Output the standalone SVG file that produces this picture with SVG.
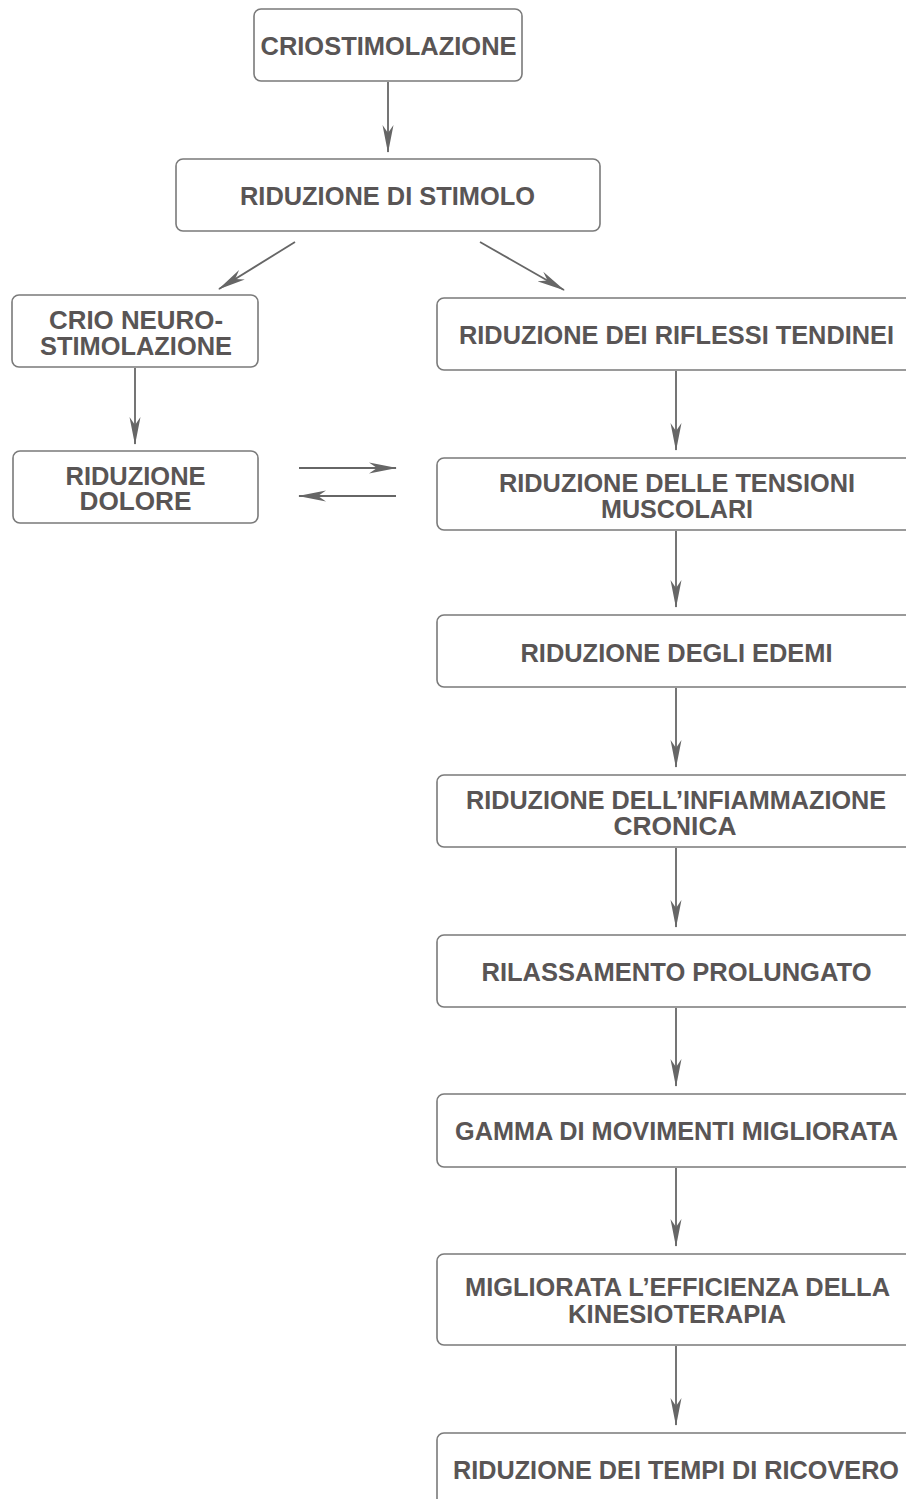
<svg xmlns="http://www.w3.org/2000/svg" width="906" height="1499" viewBox="0 0 906 1499">
<defs>
<marker id="ah" markerUnits="userSpaceOnUse" markerWidth="28" markerHeight="12" refX="27" refY="6" orient="auto" viewBox="0 0 28 12">
<path d="M0,0.5 L28,6 L0,11.5 L8,6 Z" fill="#666"/>
</marker>
<style>
.box{fill:#fff;stroke:#7a7a7a;stroke-width:1.6}
.t{font-family:"Liberation Sans",Arial,sans-serif;font-weight:bold;font-size:26px;fill:#595555;text-anchor:middle}
.c{stroke:#666;stroke-width:1.8;fill:none;marker-end:url(#ah)}
</style>
</defs>
<rect width="906" height="1499" fill="#fff"/>
<g id="connectors">
<line class="c" x1="388" y1="82" x2="388" y2="152"/>
<line class="c" x1="295" y1="242" x2="219" y2="289"/>
<line class="c" x1="480" y1="242" x2="564" y2="290"/>
<line class="c" x1="135" y1="368" x2="135" y2="444"/>
<line class="c" x1="299" y1="468" x2="396" y2="468"/>
<line class="c" x1="396" y1="496" x2="299" y2="496"/>
<line class="c" x1="676" y1="371" x2="676" y2="450"/>
<line class="c" x1="676" y1="531" x2="676" y2="607"/>
<line class="c" x1="676" y1="688" x2="676" y2="767"/>
<line class="c" x1="676" y1="848" x2="676" y2="927"/>
<line class="c" x1="676" y1="1008" x2="676" y2="1086"/>
<line class="c" x1="676" y1="1168" x2="676" y2="1246"/>
<line class="c" x1="676" y1="1346" x2="676" y2="1425"/>
</g>
<g id="n1"><rect class="box" x="254" y="9" width="268" height="72" rx="7"/><text class="t" x="388.5" y="55" textLength="256" lengthAdjust="spacingAndGlyphs">CRIOSTIMOLAZIONE</text></g>
<g id="n2"><rect class="box" x="176" y="159" width="424" height="72" rx="7"/><text class="t" x="387.5" y="205" textLength="295" lengthAdjust="spacingAndGlyphs">RIDUZIONE DI STIMOLO</text></g>
<g id="n3"><rect class="box" x="12" y="295" width="246" height="72" rx="7"/><text class="t" x="136" y="329" textLength="174" lengthAdjust="spacingAndGlyphs">CRIO NEURO-</text><text class="t" x="136" y="355" textLength="192" lengthAdjust="spacingAndGlyphs">STIMOLAZIONE</text></g>
<g id="n4"><rect class="box" x="13" y="451" width="245" height="72" rx="7"/><text class="t" x="135.5" y="485" textLength="140" lengthAdjust="spacingAndGlyphs">RIDUZIONE</text><text class="t" x="135.5" y="510" textLength="112" lengthAdjust="spacingAndGlyphs">DOLORE</text></g>
<g id="n5"><rect class="box" x="437" y="298" width="478" height="72" rx="7"/><text class="t" x="676.5" y="344" textLength="435" lengthAdjust="spacingAndGlyphs">RIDUZIONE DEI RIFLESSI TENDINEI</text></g>
<g id="n6"><rect class="box" x="437" y="458" width="478" height="72" rx="7"/><text class="t" x="677" y="492" textLength="356" lengthAdjust="spacingAndGlyphs">RIDUZIONE DELLE TENSIONI</text><text class="t" x="677" y="518" textLength="152" lengthAdjust="spacingAndGlyphs">MUSCOLARI</text></g>
<g id="n7"><rect class="box" x="437" y="615" width="478" height="72" rx="7"/><text class="t" x="676.5" y="662" textLength="312" lengthAdjust="spacingAndGlyphs">RIDUZIONE DEGLI EDEMI</text></g>
<g id="n8"><rect class="box" x="437" y="775" width="478" height="72" rx="7"/><text class="t" x="676" y="809" textLength="420" lengthAdjust="spacingAndGlyphs">RIDUZIONE DELL’INFIAMMAZIONE</text><text class="t" x="675" y="835" textLength="123" lengthAdjust="spacingAndGlyphs">CRONICA</text></g>
<g id="n9"><rect class="box" x="437" y="935" width="478" height="72" rx="7"/><text class="t" x="676.5" y="981" textLength="390" lengthAdjust="spacingAndGlyphs">RILASSAMENTO PROLUNGATO</text></g>
<g id="n10"><rect class="box" x="437" y="1094" width="478" height="73" rx="7"/><text class="t" x="676.5" y="1140" textLength="443" lengthAdjust="spacingAndGlyphs">GAMMA DI MOVIMENTI MIGLIORATA</text></g>
<g id="n11"><rect class="box" x="437" y="1254" width="478" height="91" rx="7"/><text class="t" x="677.5" y="1296" textLength="425" lengthAdjust="spacingAndGlyphs">MIGLIORATA L’EFFICIENZA DELLA</text><text class="t" x="677" y="1323" textLength="218" lengthAdjust="spacingAndGlyphs">KINESIOTERAPIA</text></g>
<g id="n12"><rect class="box" x="437" y="1433" width="478" height="80" rx="7"/><text class="t" x="676" y="1479" textLength="446" lengthAdjust="spacingAndGlyphs">RIDUZIONE DEI TEMPI DI RICOVERO</text></g>
</svg>
